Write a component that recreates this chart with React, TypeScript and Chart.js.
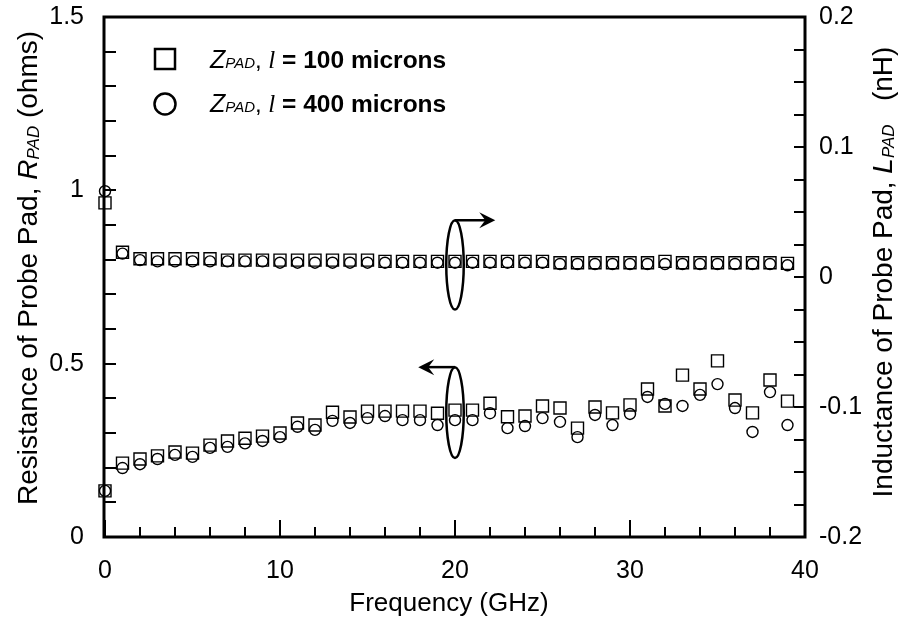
import React, { useEffect, useRef } from "react";
import { Chart, registerables } from "chart.js";

Chart.register(...registerables);

// ---------- data ----------
const frequencies = [
  0, 1, 2, 3, 4, 5, 6, 7, 8, 9, 10, 11, 12, 13, 14, 15, 16, 17, 18, 19,
  20, 21, 22, 23, 24, 25, 26, 27, 28, 29, 30, 31, 32, 33, 34, 35, 36, 37, 38, 39,
];

// Resistance (ohms), l = 100 microns (squares)
const resistance100 = [
  0.133, 0.213, 0.225, 0.234, 0.245, 0.242, 0.265, 0.277, 0.285, 0.291,
  0.3, 0.329, 0.323, 0.36, 0.346, 0.363, 0.363, 0.363, 0.363, 0.357,
  0.366, 0.366, 0.386, 0.347, 0.349, 0.378, 0.372, 0.314, 0.375, 0.358,
  0.381, 0.427, 0.378, 0.467, 0.427, 0.508, 0.395, 0.358, 0.453, 0.392,
];

// Resistance (ohms), l = 400 microns (circles)
const resistance400 = [
  0.133, 0.199, 0.21, 0.225, 0.237, 0.231, 0.257, 0.26, 0.27, 0.277,
  0.288, 0.318, 0.309, 0.335, 0.329, 0.343, 0.349, 0.337, 0.337, 0.323,
  0.337, 0.337, 0.357, 0.314, 0.32, 0.343, 0.332, 0.288, 0.352, 0.323,
  0.355, 0.404, 0.384, 0.378, 0.41, 0.441, 0.372, 0.303, 0.418, 0.323,
];

// Inductance (nH), l = 100 microns (squares)
const inductance100 = [
  0.057, 0.019, 0.014, 0.014, 0.014, 0.014, 0.014, 0.013, 0.013, 0.013,
  0.013, 0.013, 0.013, 0.013, 0.013, 0.013, 0.012, 0.012, 0.012, 0.012,
  0.012, 0.012, 0.012, 0.012, 0.012, 0.012, 0.011, 0.011, 0.011, 0.011,
  0.011, 0.011, 0.012, 0.011, 0.011, 0.011, 0.011, 0.011, 0.011, 0.0105,
];

// Inductance (nH), l = 400 microns (circles)
const inductance400 = [
  0.066, 0.018, 0.013, 0.012, 0.012, 0.012, 0.012, 0.012, 0.012, 0.012,
  0.011, 0.011, 0.011, 0.011, 0.011, 0.011, 0.011, 0.011, 0.011, 0.011,
  0.011, 0.011, 0.011, 0.011, 0.011, 0.011, 0.01, 0.01, 0.01, 0.01,
  0.01, 0.01, 0.01, 0.01, 0.01, 0.01, 0.01, 0.01, 0.01, 0.009,
];

const xRange = [0, 40];
const leftRange = [0, 1.5];
const rightRange = [-0.2, 0.2];
const xLabelStep = 10;
const xMinorStep = 2;
const leftLabelStep = 0.5;
const leftMinorStep = 0.1;
const rightLabelStep = 0.1;
const rightMinorStep = 0.025;

const legendLabels = ["100 microns", "400 microns"];

// annotation: ellipse + arrow (x in GHz, y in left-axis ohms)
const upperMarkX = 20;
const upperMarkY = [0.656, 0.914];
const upperArrowToX = 22.3;
const lowerMarkX = 20;
const lowerMarkY = [0.228, 0.49];
const lowerArrowToX = 17.9;
const markHalfWidthGHz = 0.5;

// ---------- helpers ----------
const SANS = '"Liberation Sans", Arial, Helvetica, sans-serif';
const SERIF = '"Liberation Serif", "Times New Roman", serif';

type Seg = { text: string; font: string; dy?: number };

function drawSegs(ctx: CanvasRenderingContext2D, segs: Seg[], x: number, y: number, align: "left" | "center") {
  let w = 0;
  for (const s of segs) {
    ctx.font = s.font;
    w += ctx.measureText(s.text).width;
  }
  let cx = align === "center" ? x - w / 2 : x;
  ctx.textAlign = "left";
  ctx.textBaseline = "alphabetic";
  for (const s of segs) {
    ctx.font = s.font;
    ctx.fillText(s.text, cx, y + (s.dy || 0));
    cx += ctx.measureText(s.text).width;
  }
}

function countSteps(min: number, max: number, step: number) {
  return Math.round((max - min) / step);
}

function arrowHead(ctx: CanvasRenderingContext2D, x: number, y: number, dir: number) {
  ctx.beginPath();
  ctx.moveTo(x, y);
  ctx.lineTo(x - dir * 16, y - 8);
  ctx.lineTo(x - dir * 10, y);
  ctx.lineTo(x - dir * 16, y + 8);
  ctx.closePath();
  ctx.fill();
}

const framePlugin = {
  id: "framePlugin",
  beforeDatasetsDraw(chart: any) {
    const { ctx, chartArea: a, scales } = chart;
    const xs = scales.x, yl = scales.yL, yr = scales.yR;
    ctx.save();
    ctx.strokeStyle = "#000";
    ctx.lineCap = "butt";
    ctx.lineWidth = 2;
    ctx.beginPath();
    const nx = countSteps(xRange[0], xRange[1], xMinorStep);
    for (let i = 0; i <= nx; i++) {
      const v = xRange[0] + i * xMinorStep;
      const px = Math.round(xs.getPixelForValue(v));
      const major = Math.abs(v / xLabelStep - Math.round(v / xLabelStep)) < 1e-6;
      const len = major ? 17 : 10;
      ctx.moveTo(px, a.bottom);
      ctx.lineTo(px, a.bottom - len);
    }
    const nl = countSteps(leftRange[0], leftRange[1], leftMinorStep);
    for (let i = 0; i <= nl; i++) {
      const v = leftRange[0] + i * leftMinorStep;
      const py = Math.round(yl.getPixelForValue(v));
      ctx.moveTo(a.left, py);
      ctx.lineTo(a.left + 11, py);
    }
    const nr = countSteps(rightRange[0], rightRange[1], rightMinorStep);
    for (let i = 0; i <= nr; i++) {
      const v = rightRange[0] + i * rightMinorStep;
      const py = Math.round(yr.getPixelForValue(v));
      ctx.moveTo(a.right, py);
      ctx.lineTo(a.right - 11, py);
    }
    ctx.stroke();
    ctx.lineWidth = 3;
    ctx.strokeRect(a.left - 1, a.top, a.right - a.left + 1, a.bottom - a.top);
    ctx.restore();
  },
  afterDraw(chart: any) {
    const { ctx, scales } = chart;
    const xs = scales.x, yl = scales.yL;
    ctx.save();
    ctx.fillStyle = "#000";
    ctx.strokeStyle = "#000";

    // x title
    drawSegs(ctx, [{ text: "Frequency (GHz)", font: `26px ${SANS}` }], 449, 611, "center");

    // left title
    ctx.save();
    ctx.translate(37, 268);
    ctx.rotate(-Math.PI / 2);
    drawSegs(
      ctx,
      [
        { text: "Resistance of Probe Pad, ", font: `28px ${SANS}` },
        { text: "R", font: `italic 28px ${SANS}` },
        { text: "PAD", font: `italic 17px ${SANS}`, dy: 2 },
        { text: " (ohms)", font: `28px ${SANS}` },
      ],
      0,
      0,
      "center"
    );
    ctx.restore();

    // right title
    ctx.save();
    ctx.translate(892, 272);
    ctx.rotate(-Math.PI / 2);
    drawSegs(
      ctx,
      [
        { text: "Inductance of Probe Pad, ", font: `28px ${SANS}` },
        { text: "L", font: `italic 28px ${SANS}` },
        { text: "PAD", font: `italic 17px ${SANS}`, dy: 2 },
        { text: "   (nH)", font: `28px ${SANS}` },
      ],
      0,
      0,
      "center"
    );
    ctx.restore();

    // legend
    const rows = [68, 112];
    ctx.lineWidth = 2.5;
    ctx.strokeRect(155, 49, 20, 20);
    ctx.beginPath();
    ctx.arc(165, 104, 10.5, 0, Math.PI * 2);
    ctx.stroke();
    legendLabels.forEach((lab, i) => {
      drawSegs(
        ctx,
        [
          { text: "Z", font: `italic 25px ${SANS}` },
          { text: "PAD", font: `italic 15px ${SANS}` },
          { text: ", ", font: `24px ${SANS}` },
          { text: "l", font: `italic 25px ${SERIF}` },
          { text: " = " + lab, font: `bold 24.5px ${SANS}` },
        ],
        210,
        rows[i],
        "left"
      );
    });

    // annotations
    ctx.lineWidth = 2.5;
    const drawMark = (mx: number, my: number[], toX: number) => {
      const cx = xs.getPixelForValue(mx);
      const yTop = yl.getPixelForValue(my[1]);
      const yBot = yl.getPixelForValue(my[0]);
      const rx = xs.getPixelForValue(mx + markHalfWidthGHz) - cx;
      ctx.beginPath();
      ctx.ellipse(cx, (yTop + yBot) / 2, rx, (yBot - yTop) / 2, 0, 0, Math.PI * 2);
      ctx.stroke();
      const tx = xs.getPixelForValue(toX);
      const dir = tx > cx ? 1 : -1;
      ctx.beginPath();
      ctx.moveTo(cx, yTop);
      ctx.lineTo(tx - dir * 8, yTop);
      ctx.stroke();
      arrowHead(ctx, tx, yTop, dir);
    };
    drawMark(upperMarkX, upperMarkY, upperArrowToX);
    drawMark(lowerMarkX, lowerMarkY, lowerArrowToX);

    ctx.restore();
  },
};

const fmt = (v: any) => String(parseFloat(Number(v).toFixed(3)));

export default function App() {
  const ref = useRef<HTMLCanvasElement | null>(null);

  useEffect(() => {
    document.body.style.margin = "0";
    const canvas = ref.current;
    if (!canvas) return;
    const pts = (ys: number[]) => frequencies.map((f, i) => ({ x: f, y: ys[i] }));
    const squareStyle = {
      pointStyle: "rect",
      pointRadius: 8.5,
      pointHoverRadius: 8.5,
      pointBorderWidth: 1.4,
      borderColor: "#000",
      backgroundColor: "rgba(0,0,0,0)",
      showLine: false,
      clip: false,
    };
    const circleStyle = {
      pointStyle: "circle",
      pointRadius: 5.5,
      pointHoverRadius: 5.5,
      pointBorderWidth: 1.4,
      borderColor: "#000",
      backgroundColor: "rgba(0,0,0,0)",
      showLine: false,
      clip: false,
    };
    const tickFont = { family: SANS, size: 25 };
    const noPad = (s: any) => {
      s.paddingTop = 0;
      s.paddingBottom = 0;
    };
    const chart = new Chart(canvas, {
      type: "scatter",
      data: {
        datasets: [
          { label: "R 100", data: pts(resistance100), yAxisID: "yL", ...squareStyle },
          { label: "R 400", data: pts(resistance400), yAxisID: "yL", ...circleStyle },
          { label: "L 100", data: pts(inductance100), yAxisID: "yR", ...squareStyle },
          { label: "L 400", data: pts(inductance400), yAxisID: "yR", ...circleStyle },
        ] as any,
      },
      options: {
        animation: false,
        responsive: false,
        maintainAspectRatio: false,
        devicePixelRatio: 1,
        layout: { padding: { top: 17, left: 0, right: 0, bottom: 0 } },
        plugins: { legend: { display: false }, tooltip: { enabled: false } },
        events: [],
        scales: {
          x: {
            type: "linear",
            min: xRange[0],
            max: xRange[1],
            grid: { display: false },
            border: { display: false },
            ticks: { stepSize: xLabelStep, color: "#000", font: tickFont, padding: 11, callback: fmt, maxRotation: 0 },
            afterFit: (s: any) => {
              s.height = 86;
              s.paddingLeft = 0;
              s.paddingRight = 0;
            },
          },
          yL: {
            type: "linear",
            position: "left",
            min: leftRange[0],
            max: leftRange[1],
            grid: { display: false },
            border: { display: false },
            ticks: { stepSize: leftLabelStep, color: "#000", font: tickFont, padding: 13, callback: fmt },
            afterFit: (s: any) => {
              s.width = 105;
              noPad(s);
            },
          },
          yR: {
            type: "linear",
            position: "right",
            min: rightRange[0],
            max: rightRange[1],
            grid: { display: false },
            border: { display: false },
            ticks: { stepSize: rightLabelStep, color: "#000", font: tickFont, padding: 6, callback: fmt },
            afterFit: (s: any) => {
              s.width = 105;
              noPad(s);
            },
          },
        },
      } as any,
      plugins: [framePlugin],
    });
    return () => chart.destroy();
  }, []);

  return (
    <div style={{ width: 910, height: 623, background: "#fff" }}>
      <canvas ref={ref} width={910} height={623} style={{ display: "block" }} />
    </div>
  );
}
